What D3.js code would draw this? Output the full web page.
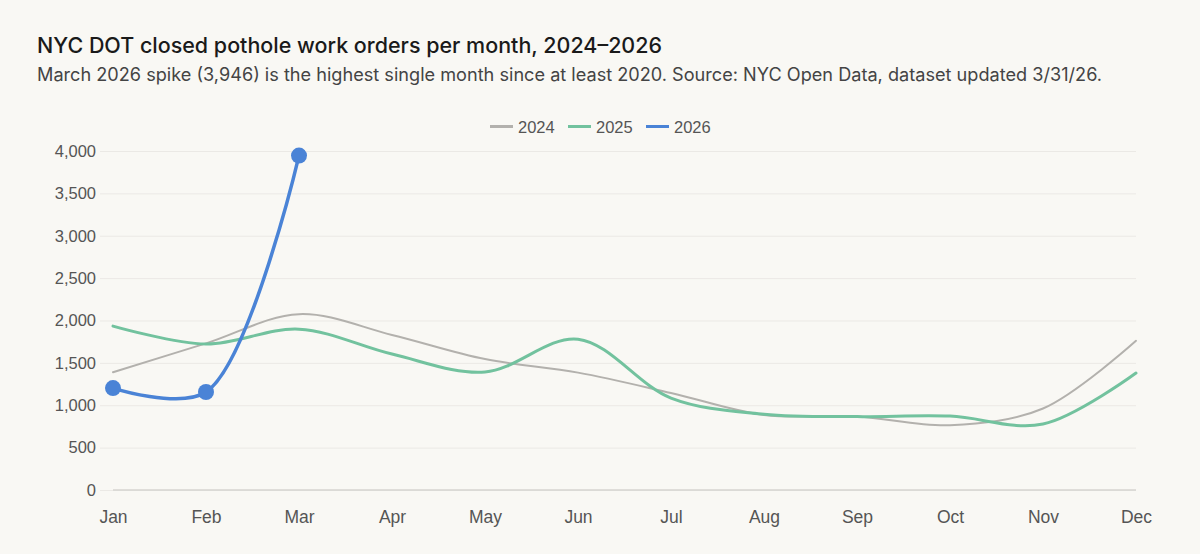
<!DOCTYPE html>
<html>
<head>
<meta charset="utf-8">
<script src="https://cdn.jsdelivr.net/npm/d3@7"></script>
<style>
  html, body { margin: 0; padding: 0; background: #f9f8f4; }
  svg { display: block; }
</style>
</head>
<body>
<div id="chart"></div>
<script>
// monthly closed pothole work orders
var months = ["Jan", "Feb", "Mar", "Apr", "May", "Jun", "Jul", "Aug", "Sep", "Oct", "Nov", "Dec"];
var years = ["2024", "2025", "2026"];
var values2024 = [1390, 1730, 2075, 1830, 1545, 1385, 1145, 885, 868, 765, 962, 1760];
var values2025 = [1934, 1722, 1898, 1604, 1392, 1780, 1085, 895, 866, 872, 778, 1380];
var values2026 = [1203, 1156, 3946];
var yTicks = [0, 500, 1000, 1500, 2000, 2500, 3000, 3500, 4000];
var colors = ["#b3b1ad", "#72c29e", "#4a83d6"];
var widths = [2, 3, 3.5];

function init(){

var w = 1200;
var h = 554;
var margin = {left: 113, right: 64, top: 151, bottom: 64};

var svg = d3.select("#chart")
    .append("svg")
    .attr("width", w)
    .attr("height", h);

svg.append("rect").attr("width", w).attr("height", h).attr("fill", "#f9f8f4");

svg.append("text")
    .attr("x", 37).attr("y", 53)
    .attr("font-family", "Inter, 'Noto Sans', sans-serif")
    .attr("font-size", 21.3)
    .attr("font-weight", 500)
    .attr("fill", "#1a1a1a")
    .attr("textLength", 625)
    .attr("lengthAdjust", "spacingAndGlyphs")
    .text("NYC DOT closed pothole work orders per month, 2024\u20132026");

svg.append("text")
    .attr("x", 37).attr("y", 81)
    .attr("font-family", "Inter, 'Noto Sans', sans-serif")
    .attr("font-size", 18)
    .attr("fill", "#444")
    .attr("textLength", 1065)
    .attr("lengthAdjust", "spacingAndGlyphs")
    .text("March 2026 spike (3,946) is the highest single month since at least 2020. Source: NYC Open Data, dataset updated 3/31/26.");

var x = d3.scalePoint()
    .domain(months)
    .range([margin.left, w - margin.right]);

var y = d3.scaleLinear()
    .domain([0, 4000])
    .range([h - margin.bottom, margin.top]);

// grid
var yAxis = d3.axisLeft(y)
    .tickValues(yTicks)
    .tickSize(-(w - margin.right - 100))
    .tickPadding(4)
    .tickFormat(d3.format(","));

var gy = svg.append("g")
    .attr("transform", "translate(100,0)")
    .call(yAxis);
gy.select(".domain").remove();
gy.selectAll(".tick line")
    .attr("stroke", "#ebe9e5")
    .attr("stroke-width", 1);
gy.selectAll(".tick text")
    .attr("font-family", "'Liberation Sans', Arial, sans-serif")
    .attr("font-size", 16.5)
    .attr("fill", "#555");

// base line from Jan to Dec
svg.append("line")
    .attr("x1", x("Jan")).attr("x2", x("Dec"))
    .attr("y1", y(0)).attr("y2", y(0))
    .attr("stroke", "#d6d4d0")
    .attr("stroke-width", 1.5);

var xAxis = d3.axisBottom(x).tickSize(0).tickPadding(21);
var gx = svg.append("g")
    .attr("transform", "translate(0," + (h - margin.bottom) + ")")
    .call(xAxis);
gx.select(".domain").remove();
gx.selectAll(".tick text")
    .attr("font-family", "'Liberation Sans', Arial, sans-serif")
    .attr("font-size", 17.5)
    .attr("fill", "#555");

var line = d3.line()
    .x(function(d, i){ return x(months[i]); })
    .y(function(d){ return y(d); })
    .curve(d3.curveCatmullRom.alpha(0.5));

var series = [values2024, values2025, values2026];

series.forEach(function(vals, k){
    svg.append("path")
        .datum(vals)
        .attr("fill", "none")
        .attr("stroke", colors[k])
        .attr("stroke-width", widths[k])
        .attr("stroke-linecap", "round")
        .attr("d", line);
});

svg.selectAll("circle.pt")
    .data(values2026)
    .enter()
    .append("circle")
    .attr("class", "pt")
    .attr("cx", function(d, i){ return x(months[i]); })
    .attr("cy", function(d){ return y(d); })
    .attr("r", 8)
    .attr("fill", colors[2]);

// legend
var legendX = [490, 568, 646];
var lg = svg.append("g");
years.forEach(function(yr, k){
    lg.append("line")
        .attr("x1", legendX[k]).attr("x2", legendX[k] + 23)
        .attr("y1", 126.5).attr("y2", 126.5)
        .attr("stroke", colors[k])
        .attr("stroke-width", 3);
    lg.append("text")
        .attr("x", legendX[k] + 28).attr("y", 132.5)
        .attr("font-family", "'Liberation Sans', Arial, sans-serif")
        .attr("font-size", 16.5)
        .attr("fill", "#555")
        .text(yr);
});

}

window.onload = init;
</script>
</body>
</html>
